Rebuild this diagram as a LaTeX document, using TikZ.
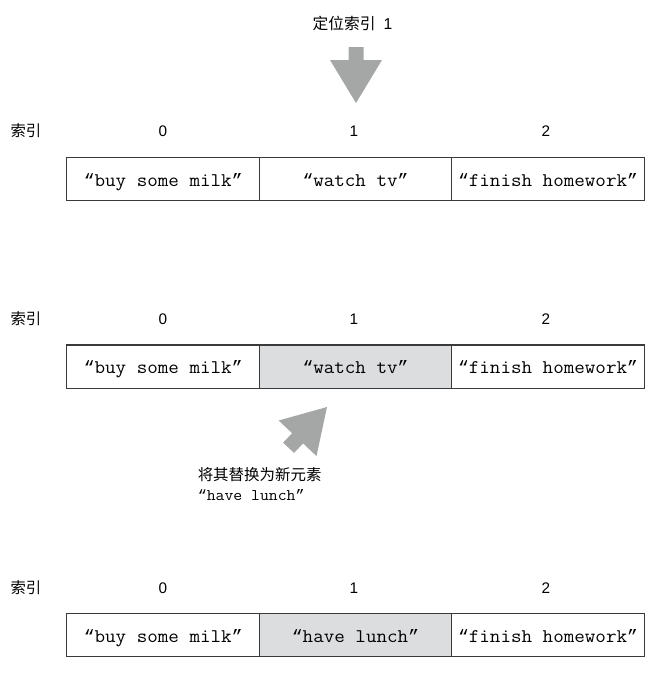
\documentclass[tikz,border=0pt]{standalone}
\usepackage{fontspec}
\setmainfont{Liberation Sans}
\newfontfamily\cjk{Noto Sans CJK SC}
\newfontfamily\cour[FakeStretch=1.06]{Latin Modern Mono}
\newfontfamily\qfont[Scale=0.9275]{Liberation Mono}
\newcommand{\oq}{{\qfont “}}
\newcommand{\cq}{{\qfont ”}}
\definecolor{arrowgray}{HTML}{A5A6A6}
\definecolor{cellhi}{HTML}{DCDDDF}
\definecolor{linegray}{HTML}{3A3A3A}
\begin{document}
\begin{tikzpicture}[x=0.75pt,y=-0.75pt,
  cell/.style={draw=linegray,line width=0.8pt,minimum width=144.4pt,minimum height=32.3pt,inner sep=0pt,outer sep=0pt,text height=14pt,text depth=3pt,font=\fontsize{14.5}{16}\selectfont\cour},
  hicell/.style={cell,fill=cellhi},
  idx/.style={inner sep=0pt,font=\fontsize{11.5}{13}\selectfont},
  blk/.style={fill=arrowgray,draw=none}]
\useasboundingbox (0,0) rectangle (660,676);

% top label and arrow
\node[idx,font=\fontsize{11.8}{13}\selectfont] (locate) at (352.5,23) {{\cjk 定位索引}\hspace{6pt}1};
\fill[blk] (356,103) -- (330,60) -- (348.5,60) -- (348.5,47) -- (363.5,47) -- (363.5,60) -- (382,60) -- cycle;

% row 1
\node[idx] (k1) at (26,131) {\cjk 索引};
\node[idx] (n10) at (163,131) {0};
\node[idx] (n11) at (354,131) {1};
\node[idx] (n12) at (546,131) {2};
\node[cell] (a0) at (163.2,178.7) {\oq buy some milk\cq};
\node[cell] (a1) at (355.5,178.7) {\oq watch tv\cq};
\node[cell] (a2) at (548,178.7) {\oq finish homework\cq};

% row 2
\node[idx] (k2) at (26,319) {\cjk 索引};
\node[idx] (n20) at (163,319) {0};
\node[idx] (n21) at (354,319) {1};
\node[idx] (n22) at (546,319) {2};
\node[cell] (b0) at (163.2,366.5) {\oq buy some milk\cq};
\node[hicell] (b1) at (355.5,366.5) {\oq watch tv\cq};
\node[cell] (b2) at (548,366.5) {\oq finish homework\cq};

% diagonal arrow
\fill[blk] (327,407) -- (278.7,420.5) -- (292.1,433.2) -- (283.1,442.7) -- (294.1,452.9) -- (303.1,443.4) -- (316.5,456.1) -- cycle;
\node[anchor=west,inner sep=0pt,font=\fontsize{11.6}{13}\selectfont\cjk] (ann1) at (197.5,474.5) {将其替换为新元素};
\node[anchor=base west,inner sep=0pt,font=\fontsize{12.2}{13}\selectfont\cour] (ann2) at (197.5,500) {\oq have lunch\cq};

% row 3
\node[idx] (k3) at (26,588) {\cjk 索引};
\node[idx] (n30) at (163,588) {0};
\node[idx] (n31) at (354,588) {1};
\node[idx] (n32) at (546,588) {2};
\node[cell] (c0) at (163.2,635.2) {\oq buy some milk\cq};
\node[hicell] (c1) at (355.5,635.2) {\oq have lunch\cq};
\node[cell] (c2) at (548,635.2) {\oq finish homework\cq};
\end{tikzpicture}
\end{document}
